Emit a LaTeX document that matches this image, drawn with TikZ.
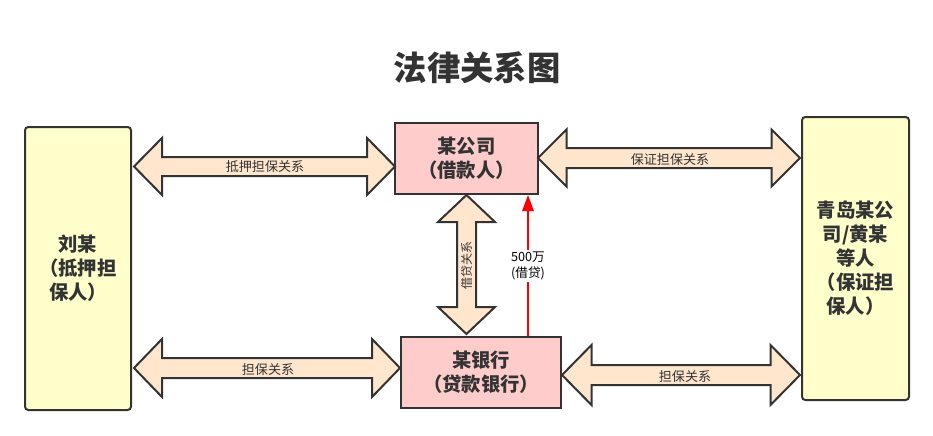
\documentclass[tikz,border=0pt]{standalone}
\usepackage{fontspec}
\setmainfont{Noto Sans CJK SC}
\usetikzlibrary{arrows.meta,calc}
\definecolor{edgec}{HTML}{333333}
\definecolor{yelf}{HTML}{FFFFCC}
\definecolor{pinkf}{HTML}{FFCCCC}
\definecolor{peachf}{HTML}{FFE6CC}
\definecolor{txtc}{HTML}{333333}
\tikzset{
  party/.style={draw=edgec, line width=1.5pt, fill=yelf, rounded corners=2.5pt, text=txtc,
    font=\fontsize{14.5}{18}\selectfont\bfseries, align=center, inner sep=0pt},
  corp/.style={draw=edgec, line width=1.5pt, fill=pinkf, text=txtc,
    font=\fontsize{14.5}{18}\selectfont\bfseries, align=center, inner sep=0pt},
  fat/.style={draw=edgec, line width=1.5pt, fill=peachf, line join=miter},
  rel/.style={text=txtc, font=\fontsize{9.8}{11}\selectfont, inner sep=1pt},
  money/.style={text=black, font=\fontsize{9.5}{12.5}\selectfont, fill=white, align=center, inner sep=1pt},
  loan/.style={draw=red, line width=1.5pt, -{Triangle[length=12pt,width=8.5pt]}},
}
\newcommand\HArrow[6]{% left tip x, right tip x, center y, shaft half, head half, head length
  \draw[fat] (#1,#3) -- ({#1+#6},{#3-#5}) -- ({#1+#6},{#3-#4}) -- ({#2-#6},{#3-#4})
    -- ({#2-#6},{#3-#5}) -- (#2,#3) -- ({#2-#6},{#3+#5}) -- ({#2-#6},{#3+#4})
    -- ({#1+#6},{#3+#4}) -- ({#1+#6},{#3+#5}) -- cycle;}
\newcommand\VArrow[6]{% center x, top tip y, bottom tip y, shaft half, head half, head length
  \draw[fat] (#1,#2) -- ({#1+#5},{#2+#6}) -- ({#1+#4},{#2+#6}) -- ({#1+#4},{#3-#6})
    -- ({#1+#5},{#3-#6}) -- (#1,#3) -- ({#1-#5},{#3-#6}) -- ({#1-#4},{#3-#6})
    -- ({#1-#4},{#2+#6}) -- ({#1-#5},{#2+#6}) -- cycle;}
\begin{document}
\begin{tikzpicture}[x=0.75pt,y=-0.75pt]
\useasboundingbox (0,0) rectangle (933,436);

\node[text=txtc, font=\fontsize{25}{30}\selectfont\bfseries] (title) at (477,68) {法律关系图};

\node[party, minimum width=79.5pt, minimum height=212.25pt] (liu) at (78,268.5)
  {刘某\\（抵押担\\保人）};
\node[party, minimum width=80.25pt, minimum height=212.25pt] (qd) at (855.5,258.5)
  {青岛某公\\司/黄某\\等人\\（保证担\\保人）};
\node[corp, minimum width=107.25pt, minimum height=53.25pt] (co) at (466.5,158.5)
  {某公司\\（借款人）};
\node[corp, minimum width=120pt, minimum height=53.25pt] (bank) at (481,372.5)
  {某银行\\（贷款银行）};

% fat double arrows
\HArrow{134}{395}{166.5}{9.5}{28.5}{28}
\node[rel] (r1) at (265,167) {抵押担保关系};
\HArrow{134}{400}{368}{10}{29}{28}
\node[rel] (r2) at (268,370) {担保关系};
\HArrow{538}{800}{158}{10}{28.5}{28.5}
\node[rel] (r3) at (670,160) {保证担保关系};
\HArrow{562}{800}{375}{10}{30}{29.5}
\node[rel] (r4) at (685,377) {担保关系};
\VArrow{466.5}{195}{334}{9.5}{28.5}{27}
\node[rel, rotate=90, font=\fontsize{9}{11}\selectfont] (r5) at (466.5,265) {借贷关系};

% loan arrow
\coordinate (lx) at (528,0);
\draw[loan] (bank.north -| lx) -- (co.south -| lx);
\node[money] (m) at (528,266) {500万\\(借贷)};
\end{tikzpicture}
\end{document}
